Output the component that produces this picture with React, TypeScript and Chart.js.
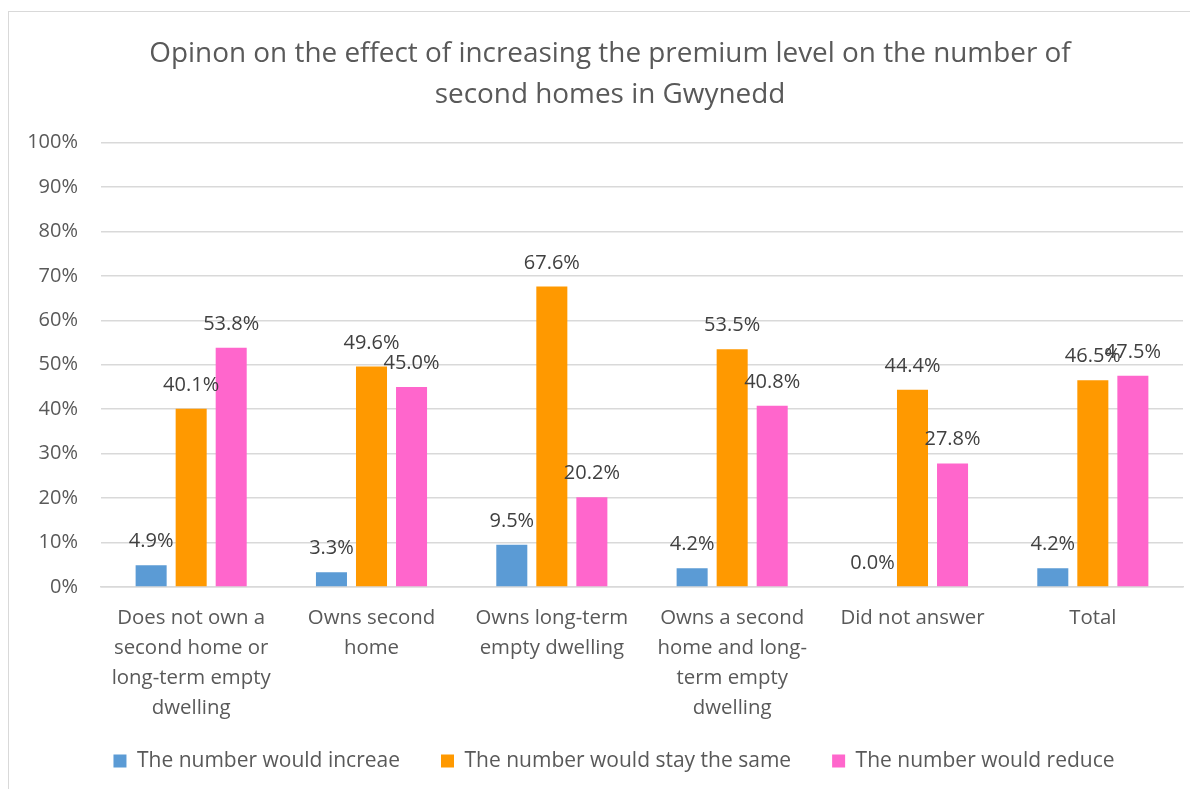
import React, { useEffect, useRef } from "react";
import { Chart, registerables } from "chart.js";

Chart.register(...registerables);

const categories: string[][] = [
  ["Does not own a", "second home or", "long-term empty", "dwelling"],
  ["Owns second", "home"],
  ["Owns long-term", "empty dwelling"],
  ["Owns a second", "home and long-", "term empty", "dwelling"],
  ["Did not answer"],
  ["Total"],
];

const increaseValues = [4.9, 3.3, 9.5, 4.2, 0.0, 4.2];
const sameValues = [40.1, 49.6, 67.6, 53.5, 44.4, 46.5];
const reduceValues = [53.8, 45.0, 20.2, 40.8, 27.8, 47.5];

const seriesNames = [
  "The number would increae",
  "The number would stay the same",
  "The number would reduce",
];

const titleLines = [
  "Opinon on the effect of increasing the premium level on the number of",
  "second homes in Gwynedd",
];

const FONT = "'Open Sans', sans-serif";
const TEXT = "#595959";

const dataLabelPlugin = {
  id: "dataLabels",
  afterDatasetsDraw(chart: any) {
    const ctx = chart.ctx;
    ctx.save();
    ctx.font = `20px ${FONT}`;
    ctx.fillStyle = "#404040";
    ctx.textAlign = "center";
    ctx.textBaseline = "alphabetic";
    chart.data.datasets.forEach((ds: any, i: number) => {
      const meta = chart.getDatasetMeta(i);
      meta.data.forEach((bar: any, j: number) => {
        const v = ds.data[j] as number;
        ctx.fillText(v.toFixed(1) + "%", bar.x, bar.y - 18);
      });
    });
    ctx.restore();
  },
};

const shiftPlugin = {
  id: "shiftBoxes",
  afterLayout(chart: any) {
    if (chart.legend) {
      chart.legend.left += 18;
      chart.legend.right += 18;
      chart.legend.top -= 17.5;
      chart.legend.bottom -= 17.5;
    }
    if (chart.titleBlock) {
      chart.titleBlock.left += 14;
      chart.titleBlock.right += 14;
    }
  },
};

export default function App() {
  const ref = useRef<HTMLCanvasElement>(null);
  useEffect(() => {
    document.body.style.overflow = "hidden";
    const chart = new Chart(ref.current!, {
      type: "bar",
      data: {
        labels: categories,
        datasets: [
          { label: seriesNames[0], data: increaseValues, backgroundColor: "#5B9BD5" },
          { label: seriesNames[1], data: sameValues, backgroundColor: "#FF9900" },
          { label: seriesNames[2], data: reduceValues, backgroundColor: "#FF66CC" },
        ],
      },
      options: {
        responsive: false,
        animation: false,
        categoryPercentage: 0.666,
        barPercentage: 0.775,
        layout: { padding: { left: 0, right: 15, top: 0, bottom: -10 } },
        plugins: {
          title: {
            display: true,
            text: titleLines,
            color: TEXT,
            font: { family: FONT, size: 27.9, weight: "normal", lineHeight: 1.47 },
            padding: { top: 22, bottom: 26.5 },
          },
          legend: {
            position: "bottom",
            labels: {
              color: TEXT,
              font: { family: FONT, size: 21 },
              boxWidth: 13,
              boxHeight: 13,
              padding: 41,
            },
          },
          tooltip: { enabled: false },
        },
        scales: {
          x: {
            grid: { display: false, drawTicks: false },
            border: { color: "#D9D9D9", width: 1.5 },
            ticks: {
              color: TEXT,
              font: { family: FONT, size: 20.4, lineHeight: 1.47 },
              padding: 16,
              maxRotation: 0,
              autoSkip: true,
            },
            afterFit: (s: any) => {
              s.height = 140;
            },
          },
          y: {
            min: 0,
            max: 100,
            grid: { color: "#D9D9D9", lineWidth: 1.5, drawTicks: false },
            border: { display: false },
            ticks: {
              stepSize: 10,
              color: TEXT,
              font: { family: FONT, size: 20 },
              padding: 23,
              callback: (v: any) => v + "%",
            },
            afterFit: (s: any) => {
              s.width = 92;
            },
          },
        },
      },
      plugins: [dataLabelPlugin, shiftPlugin],
    });
    return () => chart.destroy();
  }, []);
  return (
    <div style={{ paddingTop: 3 }}>
      <div
        style={{
          width: 1189,
          height: 777,
          borderLeft: "1px solid #D9D9D9",
          borderTop: "1px solid #D9D9D9",
          background: "#fff",
        }}
      >
        <canvas ref={ref} width={1189} height={777} style={{ display: "block" }} />
      </div>
    </div>
  );
}
